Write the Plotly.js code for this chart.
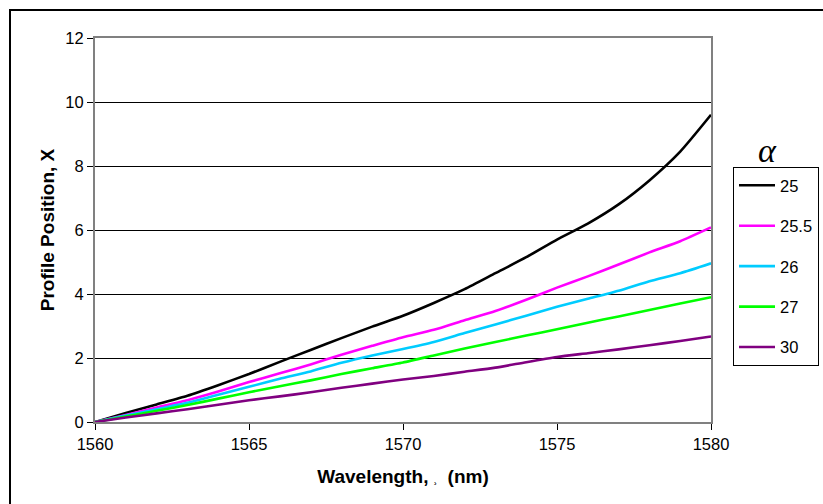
<!DOCTYPE html>
<html>
<head>
<meta charset="utf-8">
<script src="https://cdn.plot.ly/plotly-3.0.1.min.js"></script>
<style>html,body{margin:0;padding:0;background:#fff;}#chart{width:823px;height:504px;}</style>
</head>
<body>
<div id="chart"></div>
<script>
const wavelength = [1560,1561,1562,1563,1564,1565,1566,1567,1568,1569,1570,1571,1572,1573,1574,1575,1576,1577,1578,1579,1580];
const seriesNames = ["25","25.5","26","27","30"];
const x25   = [0,0.28,0.55,0.82,1.15,1.5,1.88,2.25,2.62,2.98,3.32,3.72,4.15,4.65,5.15,5.7,6.2,6.8,7.55,8.45,9.6];
const x25_5 = [0,0.22,0.45,0.68,0.95,1.25,1.52,1.8,2.1,2.38,2.65,2.88,3.18,3.47,3.82,4.2,4.55,4.92,5.3,5.65,6.08];
const x26   = [0,0.2,0.4,0.6,0.85,1.1,1.35,1.58,1.85,2.08,2.28,2.5,2.78,3.05,3.32,3.6,3.85,4.1,4.4,4.65,4.96];
const x27   = [0,0.17,0.35,0.53,0.73,0.93,1.12,1.3,1.5,1.68,1.86,2.08,2.3,2.5,2.7,2.9,3.1,3.3,3.5,3.7,3.9];
const x30   = [0,0.14,0.27,0.4,0.54,0.68,0.8,0.93,1.07,1.2,1.33,1.44,1.57,1.7,1.87,2.03,2.15,2.27,2.4,2.53,2.67];
const colors = ["#000000","#ff00ff","#00ccff","#00ff00","#800080"];
const allY = [x25, x25_5, x26, x27, x30];

const font = "Liberation Sans, Arial, sans-serif";
const traces = allY.map((y, i) => ({
  x: wavelength, y: y, type: "scatter", mode: "lines",
  name: seriesNames[i], legendgroup: "g" + i,
  line: {color: colors[i], width: 2.6, shape: "spline", smoothing: 0.6}
}));

const W = 823, H = 504;
const L = 95, R = 711, T = 38, B = 422;
const pw = R - L, ph = B - T;
const px = v => (v - L) / pw;
const py = v => (B - v) / ph;

const layout = {
  width: W, height: H,
  margin: {l: L, r: W - R, t: T, b: H - B},
  paper_bgcolor: "#ffffff", plot_bgcolor: "#ffffff",
  font: {family: font, size: 16.5, color: "#000"},
  showlegend: true,
  legend: {
    xref: "container", yref: "container",
    x: 733 / W, y: (H - 167) / H, xanchor: "left", yanchor: "top",
    bordercolor: "#000", borderwidth: 1, bgcolor: "#fff",
    font: {family: font, size: 16.5, color: "#000"},
    tracegroupgap: 16, itemwidth: 36
  },
  xaxis: {
    range: [1560, 1580], dtick: 5, tick0: 1560,
    showgrid: false, zeroline: false,
    showline: true, linecolor: "#808080", linewidth: 2, mirror: true,
    ticks: "outside", ticklen: 6, tickcolor: "#000", tickwidth: 1,
    tickfont: {family: font, size: 16.5},
    title: {text: "<b>Wavelength, <span style='font-size:10px'>¸</span>  (nm)</b>", font: {family: font, size: 19}, standoff: 18}
  },
  yaxis: {
    range: [0, 12], dtick: 2,
    showgrid: true, gridcolor: "#000", gridwidth: 1, zeroline: false,
    showline: true, linecolor: "#808080", linewidth: 2, mirror: true,
    ticks: "outside", ticklen: 6, tickcolor: "#000", tickwidth: 1,
    tickfont: {family: font, size: 16.5},
    title: {text: "<b>Profile Position, X</b>", font: {family: font, size: 19}, standoff: 6}
  },
  annotations: [{
    x: px(767), y: py(150), xref: "paper", yref: "paper",
    xanchor: "center", yanchor: "middle",
    text: "<i>α</i>", showarrow: false,
    font: {family: "Liberation Serif, Times New Roman, serif", size: 34, color: "#000"}
  }],
  shapes: [{
    type: "rect", xref: "paper", yref: "paper",
    x0: px(10), x1: px(1000), y0: py(700), y1: py(10),
    line: {color: "#000", width: 2}
  }]
};

Plotly.newPlot("chart", traces, layout, {displayModeBar: false, staticPlot: true});
</script>
</body>
</html>
